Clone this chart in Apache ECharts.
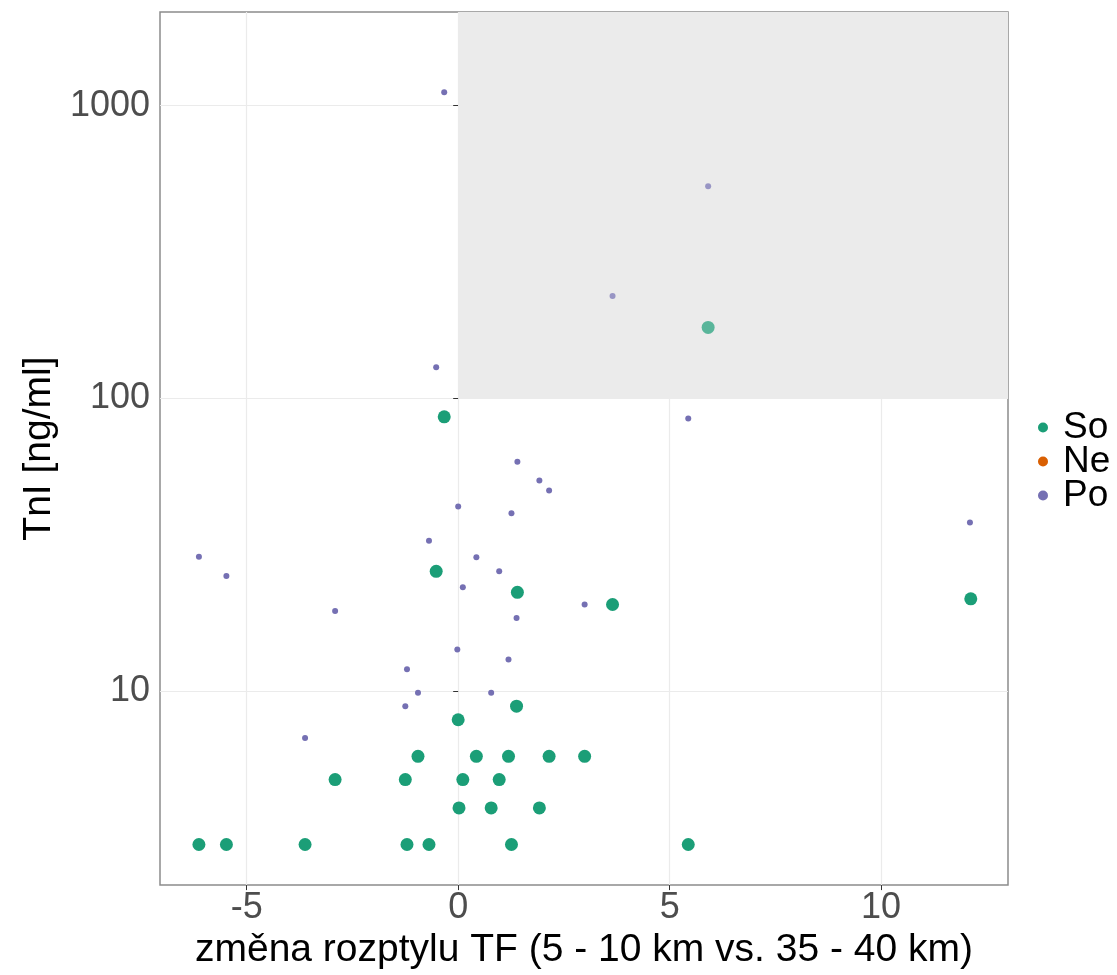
<!DOCTYPE html>
<html>
<head>
<meta charset="utf-8">
<script src="https://cdn.jsdelivr.net/npm/echarts@6/dist/echarts.min.js"></script>
<style>
  html, body { margin: 0; padding: 0; background: #fff; }
  #chart { width: 1117px; height: 975px; }
</style>
</head>
<body>
<div id="chart"></div>
<script>
// skupiny v legendě
const groups = ['So', 'Ne', 'Po'];
const groupColors = ['#1b9e77', '#d95f02', '#7570b3'];

// So - [změna rozptylu TF, TnI]
const soX = [-6.13, -5.48, -3.62, -2.91, -1.25, -1.21, -0.95, -0.69, -0.52, -0.33,
  0.0, 0.02, 0.11, 0.43, 0.78, 0.97, 1.19, 1.26, 1.38, 1.40,
  1.92, 2.15, 2.99, 3.65, 5.44, 5.91, 12.12];
const soY = [3, 3, 3, 5, 5, 3, 6, 3, 25.7, 86.6,
  8, 4, 5, 6, 4, 5, 6, 3, 8.9, 21.8,
  4, 6, 6, 19.8, 3, 175, 20.7];

// Ne - žádné body
const neX = [];
const neY = [];

// Po
const poX = [-6.13, -5.48, -3.62, -2.91, -1.25, -1.21, -0.95, -0.69, -0.52, -0.33,
  0.0, -0.02, 0.11, 0.43, 0.78, 0.97, 1.19, 1.26, 1.38, 1.40,
  1.92, 2.15, 2.99, 3.65, 5.44, 5.91, 12.1];
const poY = [28.8, 24.8, 6.93, 18.8, 8.9, 11.9, 9.9, 32.7, 127.8, 1113,
  42.8, 13.9, 22.7, 28.7, 9.9, 25.7, 12.85, 40.6, 17.8, 60.8,
  52.5, 48.5, 19.8, 224, 85.5, 531, 37.7];

const xTicks = [-5, 0, 5, 10];
const yTicks = [10, 100, 1000];

// body v šedé oblasti jsou průhlednější
const toPoints = (xs, ys) => xs.map((x, i) => {
  const p = { value: [x, ys[i]] };
  if (x > 0 && ys[i] > 100) p.itemStyle = { opacity: 0.7 };
  return p;
});

const chart = echarts.init(document.getElementById('chart'));

const axisFont = { fontFamily: 'Liberation Sans', fontSize: 36, color: '#4d4d4d' };
const titleFont = { fontFamily: 'Liberation Sans', fontSize: 39, color: '#000' };

chart.setOption({
  animation: false,
  backgroundColor: '#fff',
  grid: {
    left: 160, right: 109, top: 12, bottom: 88,
    show: true, backgroundColor: '#fff', borderColor: '#8c8c8c', borderWidth: 1.5
  },
  legend: {
    data: groups,
    orient: 'vertical',
    left: 1038, top: 409,
    padding: 0,
    icon: 'circle',
    itemWidth: 10, itemHeight: 10,
    itemGap: -3,
    textStyle: { fontFamily: 'Liberation Sans', fontSize: 37, lineHeight: 34, color: '#000', padding: [0, 0, 0, 10] }
  },
  xAxis: {
    type: 'value',
    min: -7.05, max: 13.0,
    name: 'změna rozptylu TF (5 - 10 km vs. 35 - 40 km)',
    nameLocation: 'middle',
    nameGap: 36,
    nameTextStyle: titleFont,
    axisLine: { show: false },
    axisTick: { show: true, customValues: xTicks, length: 5, lineStyle: { color: '#333' } },
    axisLabel: Object.assign({ customValues: xTicks, margin: 5 }, axisFont),
    splitLine: { show: true, lineStyle: { color: '#ebebeb', width: 1.2 } }
  },
  yAxis: {
    type: 'log',
    logBase: 10,
    min: 2.18, max: 2090,
    name: 'TnI [ng/ml]',
    nameLocation: 'middle',
    nameRotate: 90,
    nameGap: 101,
    nameTextStyle: titleFont,
    axisLine: { show: false },
    axisTick: { show: true, customValues: yTicks, length: 5, lineStyle: { color: '#333' } },
    axisLabel: Object.assign({ customValues: yTicks, margin: 10, formatter: v => String(v) }, axisFont),
    splitLine: { show: true, lineStyle: { color: '#ebebeb', width: 1.2 } }
  },
  series: [
    {
      name: 'So', type: 'scatter', symbolSize: 13,
      itemStyle: { color: groupColors[0], opacity: 1 },
      data: toPoints(soX, soY),
      z: 3,
      markArea: {
        silent: true,
        itemStyle: { color: '#ebebeb' },
        data: [[{ coord: [0, 100] }, { coord: [13.0, 2090] }]]
      }
    },
    {
      name: 'Ne', type: 'scatter', symbolSize: 13,
      itemStyle: { color: groupColors[1], opacity: 1 },
      data: toPoints(neX, neY)
    },
    {
      name: 'Po', type: 'scatter', symbolSize: 6,
      itemStyle: { color: groupColors[2], opacity: 1 },
      data: toPoints(poX, poY),
      z: 4
    }
  ]
});
</script>
</body>
</html>
